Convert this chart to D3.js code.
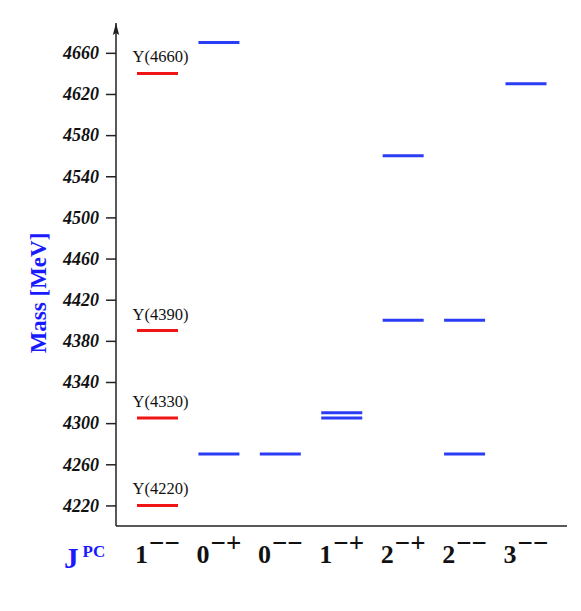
<!DOCTYPE html>
<html>
<head>
<meta charset="utf-8">
<script src="https://cdn.jsdelivr.net/npm/d3@7"></script>
<style>
  body { margin: 0; background: #fff; }
  text { font-family: "Liberation Serif", "Times New Roman", serif; }
</style>
</head>
<body>
<svg width="581" height="611"></svg>
<script>
// quantum numbers along the bottom
var jpc = ["1", "0", "0", "1", "2", "2", "3"];
var pc = ["\u2212\u2212", "\u2212+", "\u2212\u2212", "\u2212+", "\u2212+", "\u2212\u2212", "\u2212\u2212"];
var states = jpc.map(function(j, i) { return j + pc[i]; });

// observed Y states (red) for 1--
var yStates = ["1--", "1--", "1--", "1--"];
var yMass = [4220, 4305, 4390, 4640];
var yNames = ["Y(4220)", "Y(4330)", "Y(4390)", "Y(4660)"];

// predicted levels (blue)
var predStates = ["0-+", "0-+", "0--", "1-+", "1-+", "2-+", "2-+", "2--", "2--", "3--"];
var predMass = [4670, 4270, 4270, 4305, 4310, 4560, 4400, 4400, 4270, 4630];

var massTicks = d3.range(4220, 4661, 40);

var svg = d3.select("svg");

var keys = states.map(function(s) { return s.replace(/\u2212/g, "-"); });

var x = d3.scalePoint().domain(keys).range([157.5, 526]);
var y = d3.scaleLinear().domain([4200, 4689]).range([526, 23]);
var halfW = 20.5;

// arrow head for the mass axis
svg.append("defs").append("marker")
  .attr("id", "arrow")
  .attr("viewBox", "0 0 12 8")
  .attr("refX", 12).attr("refY", 4)
  .attr("markerWidth", 12).attr("markerHeight", 8)
  .attr("orient", "auto-start-reverse")
  .attr("markerUnits", "userSpaceOnUse")
  .append("path")
  .attr("d", "M0,0.8 L12,4 L0,7.2 L2,4 Z")
  .attr("fill", "#222");

// y axis
var yAxis = svg.append("g")
  .attr("transform", "translate(116,0)")
  .call(d3.axisLeft(y).tickValues(massTicks).tickFormat(d3.format("d"))
    .tickSize(10).tickSizeOuter(0).tickPadding(7));

yAxis.select(".domain").remove();
yAxis.selectAll(".tick line").attr("stroke", "#222").attr("stroke-width", 1.5);
yAxis.selectAll(".tick text")
  .attr("font-size", "18px")
  .attr("font-weight", "bold")
  .attr("font-style", "italic")
  .attr("fill", "#111");

svg.append("line")
  .attr("x1", 116).attr("x2", 116)
  .attr("y1", y(4200)).attr("y2", y(4689))
  .attr("stroke", "#222").attr("stroke-width", 1.5)
  .attr("marker-end", "url(#arrow)");

// x axis baseline
svg.append("line")
  .attr("x1", 116).attr("x2", 567)
  .attr("y1", y(4200)).attr("y2", y(4200))
  .attr("stroke", "#222").attr("stroke-width", 1.5);

// axis title
svg.append("text")
  .attr("transform", "translate(46," + 293 + ") rotate(-90)")
  .attr("text-anchor", "middle")
  .attr("font-size", "23px")
  .attr("font-weight", "bold")
  .attr("fill", "#1a1aff")
  .text("Mass [MeV]");

// J^PC label
var jl = svg.append("text")
  .attr("x", 64).attr("y", 568)
  .attr("font-size", "29px")
  .attr("font-weight", "bold")
  .attr("fill", "#1a1aff");
jl.append("tspan").text("J");
jl.append("tspan").attr("dx", 4).attr("dy", -11).attr("font-size", "17px").text("PC");

// category labels
var cats = svg.selectAll(".cat")
  .data(states)
  .enter().append("text")
  .attr("class", "cat")
  .attr("x", function(d, i) { return x(keys[i]); })
  .attr("y", 563)
  .attr("text-anchor", "middle")
  .attr("font-size", "26px")
  .attr("font-weight", "bold")
  .attr("fill", "#111");
cats.append("tspan").text(function(d, i) { return jpc[i]; });
cats.append("tspan").attr("dx", 1).attr("dy", -11).attr("font-size", "27px")
  .text(function(d, i) { return pc[i]; });

// predicted levels
svg.selectAll(".pred")
  .data(predMass)
  .enter().append("line")
  .attr("class", "pred")
  .attr("x1", function(d, i) { return x(predStates[i]) - halfW; })
  .attr("x2", function(d, i) { return x(predStates[i]) + halfW; })
  .attr("y1", function(d) { return y(d); })
  .attr("y2", function(d) { return y(d); })
  .attr("stroke", "#2a3cf5")
  .attr("stroke-width", 3);

// Y states
svg.selectAll(".ystate")
  .data(yMass)
  .enter().append("line")
  .attr("class", "ystate")
  .attr("x1", function(d, i) { return x(yStates[i]) - halfW; })
  .attr("x2", function(d, i) { return x(yStates[i]) + halfW; })
  .attr("y1", function(d) { return y(d); })
  .attr("y2", function(d) { return y(d); })
  .attr("stroke", "#f01414")
  .attr("stroke-width", 3);

svg.selectAll(".yname")
  .data(yMass)
  .enter().append("text")
  .attr("class", "yname")
  .attr("x", function(d, i) { return x(yStates[i]) + 3; })
  .attr("y", function(d) { return y(d) - 11; })
  .attr("text-anchor", "middle")
  .attr("font-size", "16.5px")
  .attr("fill", "#111")
  .text(function(d, i) { return yNames[i]; });
</script>
</body>
</html>
